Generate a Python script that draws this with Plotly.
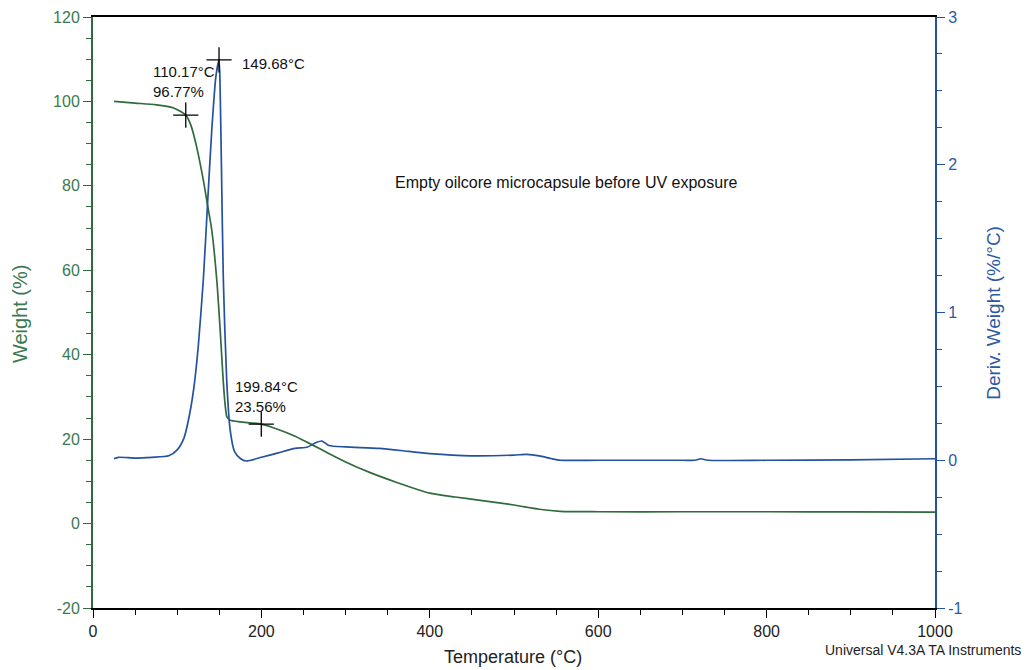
import plotly.graph_objects as go

# Weight (%) curve
temp_w = [25, 50, 75, 95, 110.17, 116, 123, 131, 136, 141, 147, 151, 154.6, 157, 159, 163, 175,
          199.84, 220, 240, 260, 280, 300, 330, 360, 400, 430, 460, 500, 530, 555, 600, 700, 800, 900, 1000]
weight = [100, 99.6, 99.2, 98.5, 96.77, 94.5, 89.3, 81.4, 75.5, 69.6, 57.7, 46, 34, 28, 25.3, 24.5, 24.1,
          23.56, 22.3, 20.7, 18.7, 16.6, 14.6, 12.0, 9.8, 7.2, 6.3, 5.5, 4.4, 3.4, 2.9, 2.8, 2.8, 2.8, 2.75, 2.7]

# Derivative weight (%/°C) curve
temp_d = [25, 30, 50, 70, 90, 100, 108, 115, 120, 125, 131, 136, 141, 146, 149.68, 150.8, 152.5, 154.8,
          158.8, 163, 168, 175, 182, 200, 220, 240, 255, 265, 272, 280, 300, 340, 375, 400, 450, 500, 515,
          530, 545, 555, 600, 700, 715, 722, 730, 800, 900, 1000]
deriv = [0.01, 0.02, 0.015, 0.02, 0.03, 0.07, 0.15, 0.32, 0.5, 0.77, 1.22, 1.73, 2.23, 2.6, 2.71, 2.57, 2.0, 1.22,
         0.54, 0.2, 0.06, 0.012, -0.005, 0.02, 0.05, 0.08, 0.09, 0.12, 0.13, 0.1, 0.09, 0.08, 0.06, 0.045, 0.03, 0.035, 0.04,
         0.03, 0.01, 0.0, 0.0, 0.0, 0.0, 0.01, 0.0, 0.0, 0.003, 0.01]

# Marked points
mark_t_w = [110.17, 199.84]
mark_w = [96.77, 23.56]
mark_t_d = [149.68]
mark_d = [2.71]

x_ticks = [0, 200, 400, 600, 800, 1000]
x_labels = ["0", "200", "400", "600", "800", "1000"]
y_ticks = [-20, 0, 20, 40, 60, 80, 100, 120]
y_labels = ["-20", "0", "20", "40", "60", "80", "100", "120"]
y2_ticks = [-1, 0, 1, 2, 3]
y2_labels = ["-1", "0", "1", "2", "3"]

GREEN = "#2f6b3c"
GREEN_TXT = "#3b7a4e"
BLUE = "#2552a0"
BLUE_TXT = "#2c5aa0"
FONT = "Liberation Sans, Arial, sans-serif"

fig = go.Figure()
fig.add_trace(go.Scatter(x=temp_w, y=weight, mode="lines", line=dict(color=GREEN, width=1.7, shape="spline", smoothing=0.6),
                         showlegend=False, yaxis="y"))
fig.add_trace(go.Scatter(x=temp_d, y=deriv, mode="lines", line=dict(color=BLUE, width=1.7, shape="spline", smoothing=0.6),
                         showlegend=False, yaxis="y2"))
fig.add_trace(go.Scatter(x=mark_t_w, y=mark_w, mode="markers",
                         marker=dict(symbol="cross-thin", size=18, line=dict(color="black", width=1.3)),
                         showlegend=False, yaxis="y"))
fig.add_trace(go.Scatter(x=mark_t_d, y=mark_d, mode="markers",
                         marker=dict(symbol="cross-thin", size=18, line=dict(color="black", width=1.3)),
                         showlegend=False, yaxis="y2"))

fig.update_layout(
    width=1022, height=662,
    margin=dict(l=85, r=95, t=9, b=62, autoexpand=False),
    paper_bgcolor="white", plot_bgcolor="white",
    font=dict(family=FONT),
    xaxis=dict(range=[0, 1000], tickvals=x_ticks, ticktext=x_labels, ticks="outside", ticklen=8, tickcolor="black",
               tickwidth=1.3, showline=True, linecolor="black", linewidth=1.5, mirror=True, showgrid=False,
               zeroline=False, tickfont=dict(size=16, color="#222"), automargin=False,
               minor=dict(dtick=50, ticks="outside", ticklen=5, tickcolor="black")),
    yaxis=dict(range=[-20, 120], tickvals=y_ticks, ticktext=y_labels, ticks="outside", ticklen=8, tickcolor=GREEN,
               tickwidth=1.3, showline=True, linecolor=GREEN, linewidth=2, showgrid=False, zeroline=False,
               tickfont=dict(size=16, color=GREEN_TXT), automargin=False,
               minor=dict(dtick=5, ticks="outside", ticklen=5, tickcolor=GREEN)),
    yaxis2=dict(range=[-1, 3], tickvals=y2_ticks, ticktext=y2_labels, overlaying="y", side="right", ticks="outside",
                ticklen=8, tickwidth=1.3, tickcolor=BLUE, showline=True, linecolor=BLUE, linewidth=2, showgrid=False,
                zeroline=False, tickfont=dict(size=16, color=BLUE_TXT), automargin=False,
                minor=dict(dtick=0.25, ticks="outside", ticklen=5, tickcolor=BLUE)),
)

annos = [
    dict(x=68.9, y=99.8, xref="x", yref="y", text="110.17°C<br>96.77%", xanchor="left", yanchor="bottom",
         align="left", showarrow=False, font=dict(size=15, color="#111")),
    dict(x=174.6, y=109.1, xref="x", yref="y", text="149.68°C", xanchor="left", yanchor="middle",
         showarrow=False, font=dict(size=15, color="#111")),
    dict(x=166.3, y=30.1, xref="x", yref="y", text="199.84°C<br>23.56%", xanchor="left", yanchor="middle",
         align="left", showarrow=False, font=dict(size=15, color="#111")),
    dict(x=561.8, y=80.7, xref="x", yref="y", text="Empty oilcore microcapsule before UV exposure",
         xanchor="center", yanchor="middle", showarrow=False, font=dict(size=16, color="#111")),
    dict(x=1.1045, y=-0.071, xref="paper", yref="paper", text="Universal V4.3A TA Instruments",
         xanchor="right", yanchor="middle", showarrow=False, font=dict(size=14, color="#222")),
    dict(x=0.4992, y=-0.0829, xref="paper", yref="paper", text="Temperature (°C)", xanchor="center",
         yanchor="middle", showarrow=False, font=dict(size=18, color="#222")),
    dict(x=-0.0867, y=0.499, xref="paper", yref="paper", text="Weight (%)", textangle=-90, xanchor="center",
         yanchor="middle", showarrow=False, font=dict(size=20, color=GREEN_TXT)),
    dict(x=1.0685, y=0.499, xref="paper", yref="paper", text="Deriv. Weight (%/°C)", textangle=-90,
         xanchor="center", yanchor="middle", showarrow=False, font=dict(size=19, color=BLUE_TXT)),
]
fig.update_layout(annotations=annos)

fig.write_html("out.html")
